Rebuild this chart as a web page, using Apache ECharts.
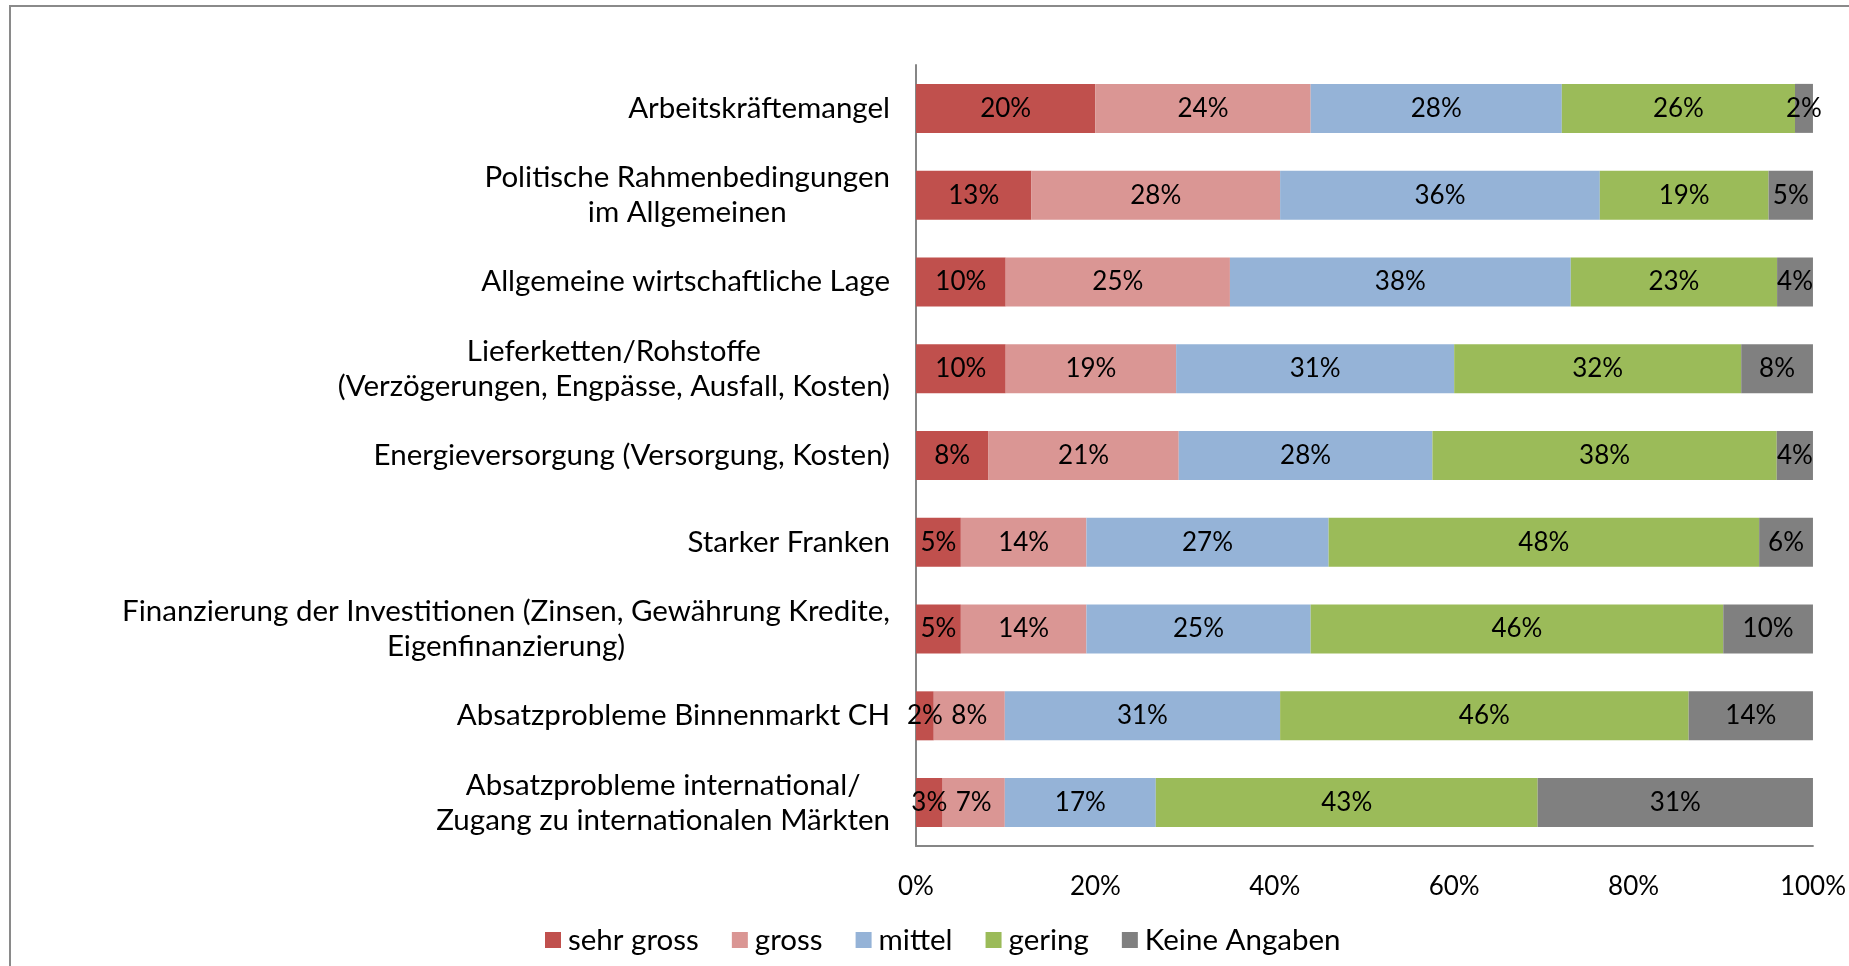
<!DOCTYPE html>
<html>
<head>
<meta charset="utf-8">
<title>Herausforderungen</title>
<script src="https://cdn.jsdelivr.net/npm/echarts@6/dist/echarts.min.js"></script>
<style>
  html, body { margin: 0; padding: 0; background: #fff; }
  #chart { width: 1849px; height: 966px; }
</style>
</head>
<body>
<div id="chart"></div>
<script>
// categories, top to bottom
const categories = [
  'Arbeitskräftemangel',
  'Politische Rahmenbedingungen\nim Allgemeinen',
  'Allgemeine wirtschaftliche Lage',
  'Lieferketten/Rohstoffe\n(Verzögerungen, Engpässe, Ausfall, Kosten)',
  'Energieversorgung (Versorgung, Kosten)',
  'Starker Franken',
  'Finanzierung der Investitionen (Zinsen, Gewährung Kredite,\nEigenfinanzierung)',
  'Absatzprobleme Binnenmarkt CH',
  'Absatzprobleme international/\nZugang zu internationalen Märkten'
]

// shares in percent, as printed in the bars
const sehrGross = [20, 13, 10, 10, 8, 5, 5, 2, 3]
const gross = [24, 28, 25, 19, 21, 14, 14, 8, 7]
const mittel = [28, 36, 38, 31, 28, 27, 25, 31, 17]
const gering = [26, 19, 23, 32, 38, 48, 46, 46, 43]
const keineAngaben = [2, 5, 4, 8, 4, 6, 10, 14, 31]

const xTicks = [0, 20, 40, 60, 80, 100]

const seriesDefs = [
  { name: 'sehr gross', data: sehrGross, color: '#C0504D' },
  { name: 'gross', data: gross, color: '#DA9694' },
  { name: 'mittel', data: mittel, color: '#95B3D7' },
  { name: 'gering', data: gering, color: '#9BBB59' },
  { name: 'Keine Angaben', data: keineAngaben, color: '#808080' }
]

// rounded shares don't always add to 100, so bars are stacked to 100%
const rowSums = categories.map((c, i) =>
  seriesDefs.reduce((s, d) => s + d.data[i], 0))

const font = 'Lato, "Noto Sans", sans-serif'
const textSize = 29.5 // category names and legend
const numSize = 26 // percentages

const dom = echarts.init(document.getElementById('chart'))

const option = {
  backgroundColor: '#fff',
  animation: false,
  textStyle: { fontFamily: font },
  graphic: [
    {
      type: 'rect',
      shape: { x: 10, y: 6, width: 1900, height: 1000 },
      style: { fill: 'none', stroke: '#8a8a8a', lineWidth: 2 },
      silent: true
    }
  ],
  legend: {
    left: 540,
    top: 920,
    itemWidth: 16,
    itemHeight: 16,
    itemGap: 33,
    icon: 'rect',
    textStyle: { fontFamily: font, fontSize: textSize, color: '#000', padding: [0, 0, 0, 2] },
    data: seriesDefs.map(d => d.name)
  },
  grid: {
    left: 916,
    right: 27,
    top: 65,
    bottom: 120
  },
  xAxis: {
    type: 'value',
    min: 0,
    max: 100,
    interval: 20,
    axisLine: { show: true, lineStyle: { color: '#868686', width: 2 } },
    axisTick: { show: false },
    splitLine: { show: false },
    axisLabel: {
      margin: 28,
      fontFamily: font,
      fontSize: numSize,
      color: '#000',
      formatter: v => (xTicks.indexOf(v) >= 0 ? v + '%' : '')
    }
  },
  yAxis: {
    type: 'category',
    inverse: true,
    data: categories,
    axisLine: { show: true, lineStyle: { color: '#868686', width: 2 } },
    axisTick: { show: false },
    axisLabel: {
      margin: 26,
      fontFamily: font,
      fontSize: textSize,
      color: '#000',
      lineHeight: 35,
      formatter: v => v.split('\n').map(l => '{c|' + l + '}').join('\n'),
      rich: {
        c: { align: 'center', fontFamily: font, fontSize: textSize, color: '#000', lineHeight: 35 }
      }
    }
  },
  series: seriesDefs.map(d => ({
    name: d.name,
    type: 'bar',
    stack: 'total',
    barWidth: 49,
    itemStyle: { color: d.color },
    label: {
      show: true,
      position: 'inside',
      fontFamily: font,
      fontSize: numSize,
      color: '#000',
      formatter: p => d.data[p.dataIndex] + '%'
    },
    data: d.data.map((v, i) => v * 100 / rowSums[i])
  }))
}

dom.setOption(option)
</script>
</body>
</html>
